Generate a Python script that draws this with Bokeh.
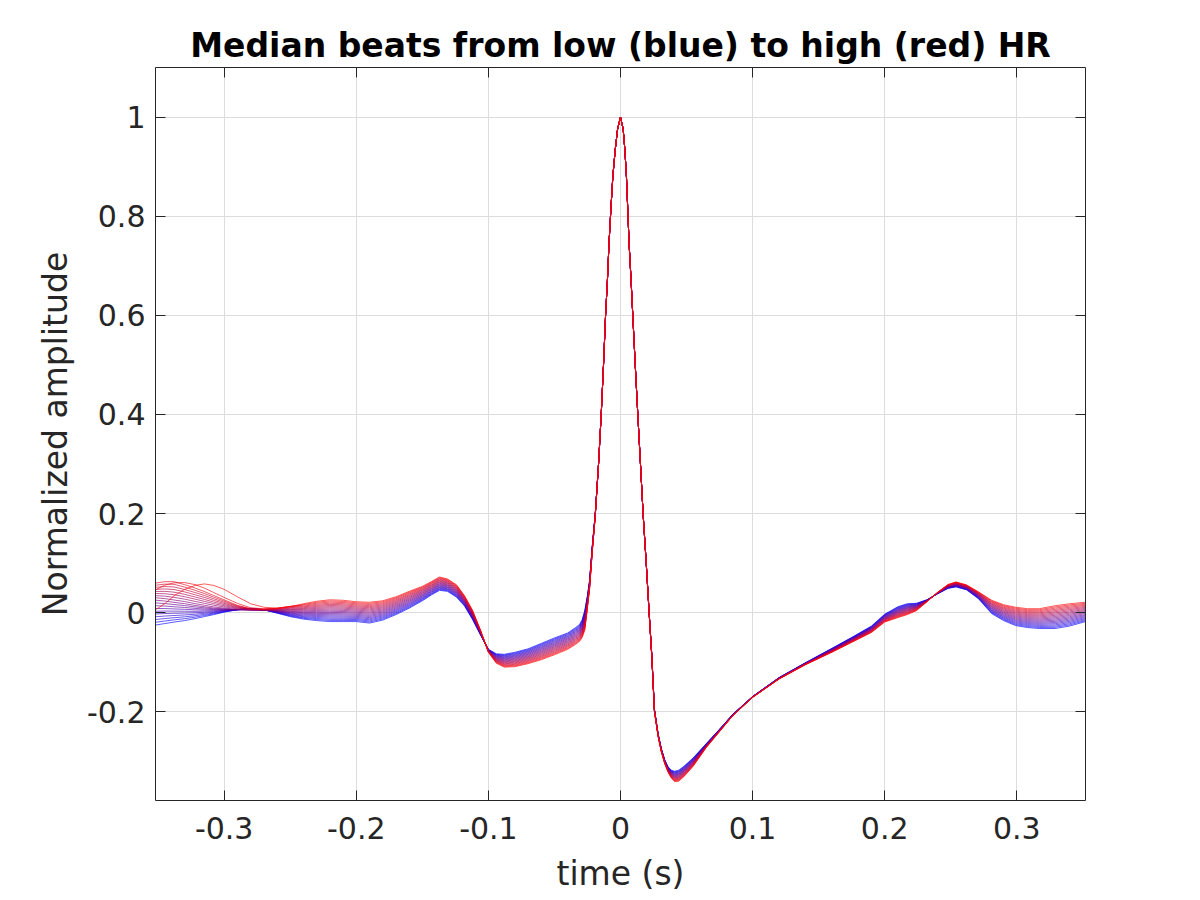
import numpy as np
from bokeh.plotting import figure
from bokeh.models import ColumnDataSource, FixedTicker, LinearAxis, Range1d
from bokeh.embed import file_html
from bokeh.resources import INLINE

# ---------------- data ----------------
# weight of each median beat, low HR (blue, 0) -> high HR (red, 1)
HR_WEIGHTS = [0.0, 0.053, 0.105, 0.158, 0.211, 0.263, 0.316, 0.368, 0.421, 0.474,
              0.526, 0.579, 0.632, 0.684, 0.737, 0.789, 0.842, 0.895, 0.947, 1.0]

# left part (previous-beat T wave region): anchor beats at these weights
LEFT_ANCHOR_W = [0.0, 0.5, 0.9, 0.95, 1.0]
T_LEFT = [-0.352, -0.345, -0.338, -0.33, -0.322, -0.315, -0.308, -0.30, -0.29,
          -0.28, -0.27, -0.26, -0.25, -0.24]
LEFT_BLUE = [-0.025, -0.022, -0.019, -0.016, -0.012, -0.008, -0.004, 0.001, 0.006,
             0.009, 0.006, -0.001, -0.008, -0.013]
LEFT_PURPLE = [0.028, 0.026, 0.023, 0.020, 0.016, 0.013, 0.010, 0.008, 0.006,
               0.005, 0.005, 0.004, 0.003, 0.0025]
LEFT_PINK = [0.060, 0.063, 0.063, 0.057, 0.050, 0.043, 0.035, 0.026, 0.015,
             0.008, 0.007, 0.009, 0.013, 0.015]
LEFT_ROSE = [0.045, 0.055, 0.060, 0.061, 0.057, 0.050, 0.041, 0.031, 0.019,
             0.010, 0.008, 0.009, 0.0125, 0.0165]
LEFT_RED = [0.006, 0.018, 0.034, 0.047, 0.055, 0.058, 0.055, 0.047, 0.032,
            0.018, 0.011, 0.009, 0.012, 0.018]

# rest of the beat: lowest-HR (blue) and highest-HR (red) median beats
T_MAIN = [-0.23, -0.22, -0.21, -0.20, -0.19, -0.18, -0.17, -0.16, -0.15, -0.143,
          -0.137, -0.131, -0.124, -0.118, -0.112, -0.106, -0.100, -0.094, -0.088,
          -0.080, -0.070, -0.060, -0.050, -0.040, -0.034, -0.031, -0.029, -0.027,
          -0.025, -0.0234, -0.0214, -0.0191, -0.0166, -0.0146, -0.0128, -0.0113,
          -0.0099, -0.0087, -0.0073, -0.0058, -0.0040, -0.0022, 0.0, 0.0020,
          0.0033, 0.0045, 0.0055, 0.0065, 0.0080, 0.0093, 0.0111, 0.0131, 0.0151,
          0.0171, 0.0195, 0.0217, 0.0237, 0.0257, 0.0285, 0.0310, 0.0335, 0.0360,
          0.0385, 0.0410, 0.0440, 0.0480, 0.0550, 0.0650, 0.0750, 0.0850, 0.1000,
          0.1200, 0.1400, 0.1600, 0.1750, 0.1900, 0.2000, 0.2100, 0.2170, 0.2240,
          0.2320, 0.2400, 0.2480, 0.2540, 0.2620, 0.2710, 0.2810, 0.2900, 0.2990,
          0.3080, 0.3170, 0.3290, 0.3400, 0.3520]
BLUE_MAIN = [-0.016, -0.018, -0.018, -0.018, -0.021, -0.015, -0.004, 0.009, 0.024, 0.036,
             0.045, 0.043, 0.031, 0.013, -0.014, -0.045, -0.074, -0.083, -0.084,
             -0.080, -0.073, -0.062, -0.051, -0.041, -0.030, -0.024, -0.014, 0.005,
             0.035, 0.065, 0.133, 0.200, 0.301, 0.400, 0.503, 0.600,
             0.671, 0.745, 0.813, 0.880, 0.934, 0.976, 1.000, 0.976,
             0.934, 0.880, 0.813, 0.745, 0.671, 0.600, 0.503, 0.400, 0.301,
             0.200, 0.099, 0.000, -0.085, -0.195, -0.245, -0.275, -0.297, -0.311,
             -0.318, -0.320, -0.318, -0.310, -0.293, -0.264, -0.235, -0.205, -0.169,
             -0.131, -0.101, -0.072, -0.050, -0.027, -0.003, 0.012, 0.018, 0.019,
             0.026, 0.038, 0.049, 0.052, 0.046, 0.028, -0.002, -0.016, -0.026,
             -0.030, -0.032, -0.032, -0.027, -0.018]
RED_MAIN = [0.023, 0.026, 0.025, 0.022, 0.021, 0.024, 0.032, 0.043, 0.053, 0.063,
            0.072, 0.068, 0.056, 0.034, 0.005, -0.035, -0.080, -0.102, -0.110,
            -0.109, -0.103, -0.095, -0.085, -0.074, -0.064, -0.058, -0.050, -0.035,
            0.010, 0.048, 0.122, 0.195, 0.301, 0.400, 0.503, 0.600,
            0.671, 0.745, 0.813, 0.880, 0.934, 0.976, 1.000, 0.976,
            0.934, 0.880, 0.813, 0.745, 0.671, 0.600, 0.503, 0.400, 0.301,
            0.200, 0.099, -0.002, -0.090, -0.200, -0.250, -0.282, -0.305, -0.322,
            -0.334, -0.341, -0.340, -0.331, -0.310, -0.272, -0.240, -0.208, -0.171,
            -0.134, -0.105, -0.080, -0.060, -0.040, -0.019, -0.010, -0.004, 0.004,
            0.022, 0.041, 0.057, 0.062, 0.056, 0.042, 0.025, 0.016, 0.011,
            0.008, 0.008, 0.014, 0.018, 0.021]

X_TICKS = [-0.3, -0.2, -0.1, 0.0, 0.1, 0.2, 0.3]
X_TICK_LABELS = ["-0.3", "-0.2", "-0.1", "0", "0.1", "0.2", "0.3"]
Y_TICKS = [-0.2, 0.0, 0.2, 0.4, 0.6, 0.8, 1.0]
Y_TICK_LABELS = ["-0.2", "0", "0.2", "0.4", "0.6", "0.8", "1"]

TITLE = "Median beats from low (blue) to high (red) HR"
X_LABEL = "time (s)"
Y_LABEL = "Normalized amplitude"

# ---------------- build the beats ----------------
left_anchors = np.array([LEFT_BLUE, LEFT_PURPLE, LEFT_PINK, LEFT_ROSE, LEFT_RED])
blue = np.array(BLUE_MAIN)
red = np.array(RED_MAIN)
t_all = list(T_LEFT) + list(T_MAIN)

xs, ys, colors = [], [], []
for w in HR_WEIGHTS:
    left = [float(np.interp(w, LEFT_ANCHOR_W, left_anchors[:, k])) for k in range(len(T_LEFT))]
    main = list((1 - w) * blue + w * red)
    xs.append(t_all)
    ys.append(left + main)
    colors.append("#%02x%02x%02x" % (int(round(255 * w)), 0, int(round(255 * (1 - w)))))

src = ColumnDataSource(dict(xs=xs, ys=ys, color=colors))

# ---------------- figure ----------------
FONT = "DejaVu Sans"
AX_COLOR = "#262626"

p = figure(width=1200, height=900, output_backend="svg", toolbar_location=None,
           x_range=Range1d(-0.352, 0.352), y_range=Range1d(-0.379, 1.1),
           min_border_left=155, min_border_right=115, min_border_top=67,
           min_border_bottom=100, title=TITLE)
p.background_fill_color = "white"
p.border_fill_color = "white"
p.outline_line_color = None

p.title.text_font = FONT
p.title.text_font_size = "33px"
p.title.text_font_style = "bold"
p.title.text_color = "black"
p.title.align = "center"
p.title.standoff = 6

p.multi_line(xs="xs", ys="ys", line_color="color", line_width=0.9, line_alpha=0.72, source=src)

bottom_ax = p.below[0]
left_ax = p.left[0]

bottom_ax.ticker = FixedTicker(ticks=X_TICKS)
left_ax.ticker = FixedTicker(ticks=Y_TICKS)
bottom_ax.major_label_overrides = {t: s for t, s in zip(X_TICKS, X_TICK_LABELS)}
left_ax.major_label_overrides = {t: s for t, s in zip(Y_TICKS, Y_TICK_LABELS)}
bottom_ax.axis_label = X_LABEL
left_ax.axis_label = Y_LABEL

top_ax = LinearAxis(ticker=FixedTicker(ticks=X_TICKS),
                    major_label_overrides={t: "" for t in X_TICKS})
right_ax = LinearAxis(ticker=FixedTicker(ticks=Y_TICKS),
                      major_label_overrides={t: "" for t in Y_TICKS})
p.add_layout(top_ax, "above")
p.add_layout(right_ax, "right")

for ax in [bottom_ax, left_ax, top_ax, right_ax]:
    ax.axis_line_color = AX_COLOR
    ax.axis_line_width = 1
    ax.major_tick_in = 10
    ax.major_tick_out = 0
    ax.major_tick_line_color = AX_COLOR
    ax.major_tick_line_width = 1
    ax.minor_tick_line_color = None
    ax.major_label_text_font = FONT
    ax.major_label_text_font_size = "30px"
    ax.major_label_text_color = AX_COLOR
    ax.axis_label_text_font = FONT
    ax.axis_label_text_font_size = "33px"
    ax.axis_label_text_font_style = "normal"
    ax.axis_label_text_color = AX_COLOR

for ax in [top_ax, right_ax]:
    ax.major_label_standoff = 0
    ax.major_label_text_font_size = "1px"

bottom_ax.major_label_standoff = 16
left_ax.major_label_standoff = 10
bottom_ax.axis_label_standoff = 12
left_ax.axis_label_standoff = 9

p.xgrid.ticker = FixedTicker(ticks=X_TICKS)
p.ygrid.ticker = FixedTicker(ticks=Y_TICKS)
p.xgrid.grid_line_color = "#dcdcdc"
p.ygrid.grid_line_color = "#dcdcdc"
p.xgrid.grid_line_width = 1
p.ygrid.grid_line_width = 1

open("out.html", "w").write(file_html(p, INLINE))
